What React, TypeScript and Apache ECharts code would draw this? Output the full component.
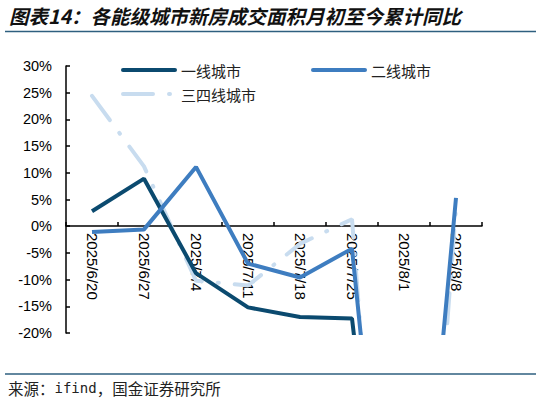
import { useEffect, useRef } from "react"
import * as echarts from "echarts"

const categories = ["2025/6/20", "2025/6/27", "2025/7/4", "2025/7/11", "2025/7/18", "2025/7/25", "2025/8/1", "2025/8/8"]
const seriesNames = ["一线城市", "二线城市", "三四线城市"]
const tier1 = [2.8, 8.9, -8.8, -15.2, -17.0, -17.3, -100, null]
const tier2 = [-1.1, -0.6, 11.1, -7.0, -9.6, -4.2, -100, 5.3]
const tier34 = [24.4, 11.2, -10.2, -11.1, -3.3, 1.3, -125, 3.5]

const CJK = '"Noto Sans CJK SC", sans-serif'
const LATIN = '"Liberation Sans", Arial, sans-serif'

const DARK = "#0b4a6f"
const BLUE = "#3e7dc0"
const LIGHT = "#c8dcef"
const LIGHT_DASH = [30, 16, 1, 16]

// 图例手动绘制（位置对照原图）
function legendItem(name: string, x: number, y: number, color: string, dash?: number[]) {
  return [
    {
      type: "line",
      shape: { x1: x, y1: y, x2: x + 52, y2: y },
      style: { stroke: color, lineWidth: 4, lineCap: "round", lineDash: dash },
    },
    {
      type: "text",
      x: x + 58,
      y: y,
      style: {
        text: name,
        font: `15px ${CJK}`,
        fill: "#222",
        verticalAlign: "middle",
      },
    },
  ]
}

export default function App() {
  const chartRef = useRef<HTMLDivElement>(null)

  useEffect(() => {
    if (!chartRef.current) return
    const chart = echarts.init(chartRef.current, null, { renderer: "svg" })

    const option = {
      animation: false,
      backgroundColor: "#fff",
      grid: { left: 66, right: 59, top: 66, bottom: 70, containLabel: false, outerBoundsMode: "none" },
      xAxis: {
        type: "category",
        data: categories,
        boundaryGap: true,
        position: "bottom",
        // 0 轴位置：(333 - 226) px
        offset: -107,
        axisLine: { onZero: false, lineStyle: { color: "#000", width: 1.5 } },
        axisTick: { show: true, inside: true, length: 4, alignWithLabel: false, lineStyle: { color: "#000", width: 1.5 } },
        axisLabel: { rotate: -90, margin: 7, fontFamily: LATIN, fontSize: 15, color: "#000", interval: 0 },
        splitLine: { show: false },
      },
      yAxis: {
        type: "value",
        min: -20,
        max: 30,
        interval: 5,
        axisLine: { show: true, lineStyle: { color: "#000", width: 1.5 } },
        axisTick: { show: true, inside: true, length: 4, lineStyle: { color: "#000", width: 1.5 } },
        axisLabel: { formatter: "{value}%", margin: 14, fontFamily: LATIN, fontSize: 14.5, color: "#000" },
        splitLine: { show: false },
      },
      series: [
        {
          name: seriesNames[0],
          type: "line",
          data: tier1,
          symbol: "none",
          z: 3,
          lineStyle: { color: DARK, width: 4 },
          itemStyle: { color: DARK },
        },
        {
          name: seriesNames[1],
          type: "line",
          data: tier2,
          symbol: "none",
          z: 4,
          lineStyle: { color: BLUE, width: 4 },
          itemStyle: { color: BLUE },
        },
        {
          name: seriesNames[2],
          type: "line",
          data: tier34,
          symbol: "none",
          z: 2,
          lineStyle: { color: LIGHT, width: 4, type: LIGHT_DASH, cap: "round" },
          itemStyle: { color: LIGHT },
        },
      ],
      graphic: [
        {
          type: "text",
          left: 9,
          top: 6,
          style: {
            text: "图表14：各能级城市新房成交面积月初至今累计同比",
            font: `italic bold 19.5px ${CJK}`,
            fill: "#111",
          },
        },
        {
          type: "line",
          shape: { x1: 5, y1: 31.5, x2: 536, y2: 31.5 },
          style: { stroke: "#2e5f7f", lineWidth: 1.5 },
        },
        ...legendItem(seriesNames[0], 123, 70, DARK),
        ...legendItem(seriesNames[1], 313, 70, BLUE),
        ...legendItem(seriesNames[2], 123, 94, LIGHT, LIGHT_DASH),
        {
          type: "line",
          shape: { x1: 5, y1: 374, x2: 536, y2: 374 },
          style: { stroke: "#2e5f7f", lineWidth: 1.5 },
        },
        {
          type: "text",
          left: 8,
          top: 380,
          style: {
            text: "{a|来源：}{b|ifind}{a|，国金证券研究所}",
            rich: {
              a: { fontFamily: CJK, fontSize: 15.5, fill: "#222" },
              b: { fontFamily: '"DejaVu Sans Mono", monospace', fontSize: 14, fill: "#222" },
            },
          },
        },
      ],
    }

    chart.setOption(option)

    return () => {
      chart.dispose()
    }
  }, [])

  return (
    <div
      ref={chartRef}
      style={{ position: "absolute", left: 0, top: 0, width: 541, height: 403 }}
    />
  )
}
